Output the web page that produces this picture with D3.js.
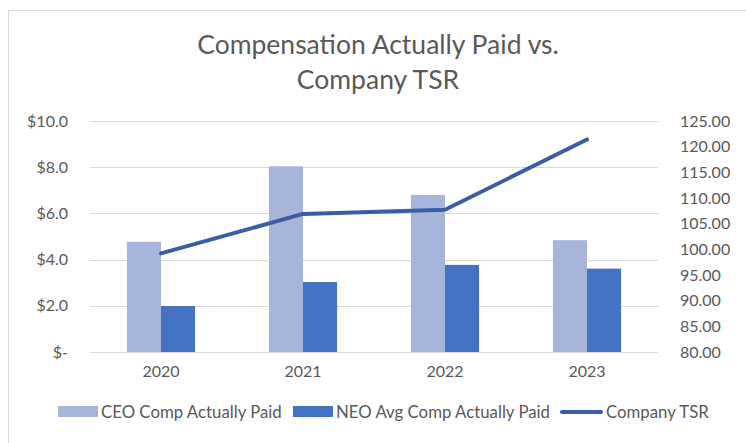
<!DOCTYPE html>
<html>
<head>
<meta charset="utf-8">
<script src="https://cdn.jsdelivr.net/npm/d3@7"></script>
<style>
  body { margin: 0; background: #fff; }
  svg { display: block; font-family: Lato, "Open Sans", sans-serif; }
</style>
</head>
<body>
<div id="chart"></div>
<script>
const years = ["2020", "2021", "2022", "2023"];
const ceoComp = [4.77, 8.04, 6.8, 4.84];
const neoComp = [1.99, 3.03, 3.77, 3.61];
const tsr = [99.2, 106.9, 107.7, 121.4];
const leftTicks = [0, 2, 4, 6, 8, 10];
const rightTicks = [80, 85, 90, 95, 100, 105, 110, 115, 120, 125];
const seriesNames = ["CEO Comp Actually Paid", "NEO Avg Comp Actually Paid", "Company TSR"];

const width = 746, height = 443;
const margin = { top: 121, right: 88, bottom: 91, left: 90 };
const colors = { ceo: "#A8B5DA", neo: "#4472C4", tsr: "#3A5DA5", text: "#595959", grid: "#D9D9D9" };

const svg = d3.select("#chart").append("svg")
    .attr("width", width)
    .attr("height", height);

// chart border
svg.append("rect")
    .attr("x", 8.5).attr("y", 10.5)
    .attr("width", width + 10).attr("height", height + 10)
    .attr("fill", "none")
    .attr("stroke", colors.grid);

// title
const title = svg.append("text")
    .attr("text-anchor", "middle")
    .attr("fill", colors.text)
    .attr("font-size", 26.5);
title.append("tspan").attr("x", 378).attr("y", 54).text("Compensation Actually Paid vs.");
title.append("tspan").attr("x", 378).attr("y", 89).text("Company TSR");

const x0 = d3.scaleBand()
    .domain(years)
    .range([margin.left, width - margin.right])
    .paddingInner(0.52)
    .paddingOuter(0.26);

const x1 = d3.scaleBand()
    .domain(["ceo", "neo"])
    .range([0, x0.bandwidth()]);

const yLeft = d3.scaleLinear()
    .domain([0, 10])
    .range([height - margin.bottom, margin.top]);

const yRight = d3.scaleLinear()
    .domain([80, 125])
    .range([height - margin.bottom, margin.top]);

// gridlines
svg.append("g")
    .selectAll("line")
    .data(leftTicks)
    .enter().append("line")
    .attr("x1", margin.left)
    .attr("x2", width - margin.right)
    .attr("y1", d => Math.round(yLeft(d)) + 0.5)
    .attr("y2", d => Math.round(yLeft(d)) + 0.5)
    .attr("stroke", colors.grid)
    .attr("stroke-width", 1);

// bars
const groups = svg.append("g")
    .selectAll("g")
    .data(years.map((y, i) => ({ year: y, ceo: ceoComp[i], neo: neoComp[i] })))
    .enter().append("g")
    .attr("transform", d => `translate(${x0(d.year)},0)`);

groups.selectAll("rect")
    .data(d => [{ key: "ceo", v: d.ceo }, { key: "neo", v: d.neo }])
    .enter().append("rect")
    .attr("x", d => x1(d.key))
    .attr("y", d => yLeft(d.v))
    .attr("width", x1.bandwidth())
    .attr("height", d => yLeft(0) - yLeft(d.v))
    .attr("fill", d => colors[d.key]);

// TSR line
const line = d3.line()
    .x((d, i) => x0(years[i]) + x0.bandwidth() / 2)
    .y(d => yRight(d));

svg.append("path")
    .datum(tsr)
    .attr("fill", "none")
    .attr("stroke", colors.tsr)
    .attr("stroke-width", 4)
    .attr("stroke-linecap", "round")
    .attr("stroke-linejoin", "round")
    .attr("d", line);

// left axis
const leftAxis = svg.append("g")
    .attr("transform", `translate(${margin.left},0)`)
    .call(d3.axisLeft(yLeft).tickValues(leftTicks).tickSize(0).tickPadding(22)
        .tickFormat(d => d === 0 ? "$-" : "$" + d3.format(".1f")(d)));
leftAxis.select(".domain").remove();

// right axis
const rightAxis = svg.append("g")
    .attr("transform", `translate(${width - margin.right},0)`)
    .call(d3.axisRight(yRight).tickValues(rightTicks).tickSize(0).tickPadding(22)
        .tickFormat(d3.format(".2f")));
rightAxis.select(".domain").remove();

// bottom axis
const bottomAxis = svg.append("g")
    .attr("transform", `translate(0,${height - margin.bottom})`)
    .call(d3.axisBottom(x0).tickSize(0).tickPadding(14));
bottomAxis.select(".domain").remove();

svg.selectAll(".tick text")
    .attr("fill", colors.text)
    .attr("font-size", 16)
    .attr("font-family", "Lato, 'Open Sans', sans-serif");

// legend
const legend = svg.append("g").attr("font-size", 16.8).attr("fill", colors.text);
const legendItems = [
    { name: seriesNames[0], x: 58, type: "bar", color: colors.ceo },
    { name: seriesNames[1], x: 293, type: "bar", color: colors.neo },
    { name: seriesNames[2], x: 560, type: "line", color: colors.tsr }
];
legendItems.forEach(item => {
    if (item.type === "bar") {
        legend.append("rect")
            .attr("x", item.x).attr("y", 406)
            .attr("width", 40).attr("height", 11)
            .attr("fill", item.color);
    } else {
        legend.append("line")
            .attr("x1", item.x + 2).attr("x2", item.x + 41)
            .attr("y1", 412).attr("y2", 412)
            .attr("stroke", item.color)
            .attr("stroke-width", 4)
            .attr("stroke-linecap", "round");
    }
    legend.append("text")
        .attr("x", item.x + (item.type === "bar" ? 43 : 46))
        .attr("y", 418)
        .attr("fill", colors.text)
        .text(item.name);
});
</script>
</body>
</html>
